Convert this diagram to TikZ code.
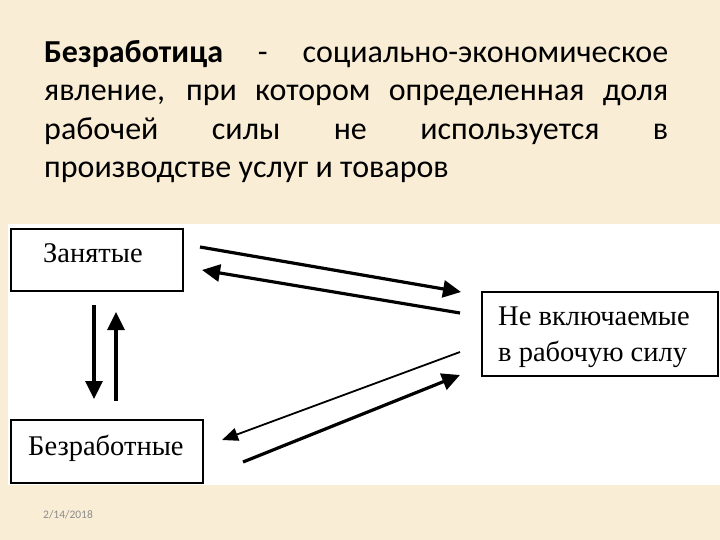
\documentclass[tikz,border=0pt]{standalone}
\usepackage{fontspec}
\setmainfont{Carlito}
\newfontfamily\boxfont{Liberation Serif}
\usetikzlibrary{arrows.meta}
\definecolor{parch}{RGB}{249,237,214}
\definecolor{dategray}{RGB}{140,140,140}
\tikzset{
  title/.style={anchor=base west, inner sep=0pt, font=\fontsize{32}{38}\selectfont},
  box/.style={draw=black, line width=1.6pt, fill=white, anchor=north west, inner sep=0pt},
  lbl/.style={anchor=base west, inner sep=0pt, font=\boxfont\fontsize{28.5}{30}\selectfont},
  thickarr/.style={line width=3.2pt, -{Triangle[length=18pt,width=17pt]}},
  thinarr/.style={line width=1.8pt, -{Triangle[length=16pt,width=13pt]}},
}
\begin{document}
\begin{tikzpicture}[x=1pt,y=-1pt]
\useasboundingbox (0,0) rectangle (720,540);
\fill[parch] (0,0) rectangle (720,540);
\fill[white] (8,224) rectangle (720,485);
% title
\node[title] (t1) at (44,63) {\makebox[624pt][s]{\textbf{Безработица} \ - \ социально-экономическое}};
\node[title] (t2) at (44,101) {\makebox[624pt][s]{явление, при котором определенная доля}};
\node[title] (t3) at (44,140) {\makebox[624pt][s]{рабочей силы не используется в}};
\node[title] (t4) at (44,178) {производстве услуг и товаров};
% boxes
\node[box, minimum width=172pt, minimum height=62pt] (zan) at (10,228) {};
\node[box, minimum width=236pt, minimum height=84pt] (nv) at (481,291) {};
\node[box, minimum width=192pt, minimum height=63pt] (bez) at (10,419) {};
\node[lbl] (zanl) at (43,262) {Занятые};
\node[lbl] (nvl1) at (498,325) {Не включаемые};
\node[lbl] (nvl2) at (498,361) {в рабочую силу};
\node[lbl] (bezl) at (28,455) {Безработные};
% arrow ends
\coordinate (a1s) at (200,247); \coordinate (a1e) at (461,292);
\coordinate (a2s) at (460,313); \coordinate (a2e) at (202,270);
\coordinate (a3s) at (460,352); \coordinate (a3e) at (222,440);
\coordinate (a4s) at (243,462); \coordinate (a4e) at (460,375);
\coordinate (v1s) at (94,305); \coordinate (v1e) at (94,399);
\coordinate (v2s) at (116,401); \coordinate (v2e) at (116,312);
\draw[thickarr] (a1s) -- (a1e);
\draw[thickarr] (a2s) -- (a2e);
\draw[thinarr] (a3s) -- (a3e);
\draw[thickarr] (a4s) -- (a4e);
\draw[thickarr] (v1s) -- (v1e);
\draw[thickarr] (v2s) -- (v2e);
% date
\node[anchor=base west, inner sep=0pt, text=dategray, font=\fontsize{11.5}{12}\selectfont] (date) at (43,518) {2/14/2018};
\end{tikzpicture}
\end{document}
